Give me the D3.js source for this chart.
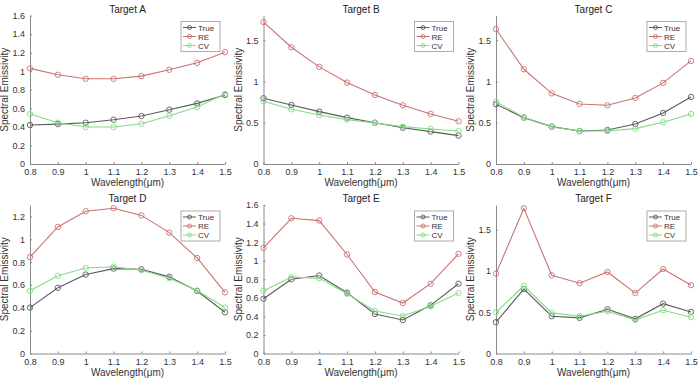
<!DOCTYPE html>
<html>
<head>
<meta charset="utf-8">
<script src="https://cdn.jsdelivr.net/npm/d3@7"></script>
<style>
  body { margin: 0; background: #fff; }
  svg { font-family: "Liberation Sans", Arial, sans-serif; }
</style>
</head>
<body>
<div id="chart"></div>
<script>
// wavelengths shared by all panels
const wavelengths = [0.8, 0.9, 1.0, 1.1, 1.2, 1.3, 1.4, 1.5];

// values, one array per series and target
const trueA = [0.42, 0.43, 0.445, 0.477, 0.517, 0.585, 0.653, 0.743];
const reA   = [1.03, 0.961, 0.918, 0.918, 0.947, 1.015, 1.09, 1.205];
const cvA   = [0.538, 0.445, 0.398, 0.398, 0.434, 0.52, 0.613, 0.753];

const trueB = [0.797, 0.716, 0.635, 0.562, 0.501, 0.44, 0.392, 0.344];
const reB   = [1.72, 1.415, 1.177, 0.987, 0.837, 0.712, 0.607, 0.518];
const cvB   = [0.76, 0.663, 0.594, 0.538, 0.497, 0.453, 0.425, 0.40];

const trueC = [0.724, 0.562, 0.453, 0.40, 0.412, 0.485, 0.619, 0.813];
const reC   = [1.634, 1.148, 0.857, 0.728, 0.712, 0.80, 0.983, 1.25];
const cvC   = [0.756, 0.566, 0.449, 0.40, 0.40, 0.429, 0.505, 0.607];

const trueD = [0.402, 0.575, 0.691, 0.743, 0.737, 0.671, 0.547, 0.361];
const reD   = [0.844, 1.108, 1.246, 1.272, 1.209, 1.058, 0.836, 0.535];
const cvD   = [0.549, 0.68, 0.749, 0.76, 0.729, 0.659, 0.552, 0.402];

const trueE = [0.59, 0.80, 0.84, 0.655, 0.426, 0.361, 0.519, 0.752];
const reE   = [1.138, 1.457, 1.432, 1.067, 0.662, 0.544, 0.752, 1.074];
const cvE   = [0.676, 0.823, 0.812, 0.644, 0.458, 0.404, 0.508, 0.651];

const trueF = [0.38, 0.78, 0.452, 0.432, 0.536, 0.42, 0.604, 0.504];
const reF   = [0.968, 1.76, 0.948, 0.852, 0.988, 0.732, 1.024, 0.828];
const cvF   = [0.50, 0.82, 0.492, 0.452, 0.512, 0.408, 0.524, 0.44];

// panel titles, y limits and y ticks
const titles = ["Target A", "Target B", "Target C", "Target D", "Target E", "Target F"];
const yMax = [1.6, 1.8, 1.8, 1.3, 1.6, 1.8];
const yTicksA = [0, 0.2, 0.4, 0.6, 0.8, 1, 1.2, 1.4, 1.6];
const yTicksB = [0, 0.5, 1, 1.5];
const yTicksD = [0, 0.2, 0.4, 0.6, 0.8, 1, 1.2];
const yTicks = [yTicksA, yTicksB, yTicksB, yTicksD, yTicksA, yTicksB];
const xTicks = [0.8, 0.9, 1, 1.1, 1.2, 1.3, 1.4, 1.5];

const seriesNames = ["True", "RE", "CV"];
const seriesColors = ["#5a5a5a", "#cc7272", "#84dc84"];
const panelData = [
  [trueA, reA, cvA], [trueB, reB, cvB], [trueC, reC, cvC],
  [trueD, reD, cvD], [trueE, reE, cvE], [trueF, reF, cvF]
];

const width = 700;
const height = 380;

const svg = d3.select("#chart").append("svg")
    .attr("width", width)
    .attr("height", height);

// grid of panel positions
const colLeft = [30, 263.5, 496];
const rowTop = [15.5, 205];
const pw = 195;
const ph = 148.5;

const fmt = d => String(+d.toFixed(2));
const axisColor = "#8a8a8a";

panelData.forEach((series, i) => {
  const left = colLeft[i % 3];
  const top = rowTop[Math.floor(i / 3)];

  const x = d3.scaleLinear().domain([0.8, 1.5]).range([0, pw]);
  const y = d3.scaleLinear().domain([0, yMax[i]]).range([ph, 0]);

  const g = svg.append("g").attr("transform", `translate(${left},${top})`);

  // axes (ticks point inward like the original)
  const xAxis = g.append("g")
      .attr("transform", `translate(0,${ph})`)
      .call(d3.axisBottom(x).tickValues(xTicks).tickFormat(fmt).tickSizeInner(-2).tickSizeOuter(0).tickPadding(5));
  const yAxis = g.append("g")
      .call(d3.axisLeft(y).tickValues(yTicks[i]).tickFormat(fmt).tickSizeInner(-2).tickSizeOuter(0).tickPadding(5));

  [xAxis, yAxis].forEach(a => {
    a.select(".domain").attr("stroke", axisColor);
    a.selectAll(".tick line").attr("stroke", axisColor);
    a.selectAll(".tick text").attr("fill", "#333").attr("font-size", 9);
  });

  // title
  g.append("text")
      .attr("x", pw / 2)
      .attr("y", -3)
      .attr("text-anchor", "middle")
      .attr("font-size", 10)
      .attr("fill", "#222")
      .text(titles[i]);

  // axis labels
  g.append("text")
      .attr("x", pw / 2)
      .attr("y", ph + 22)
      .attr("text-anchor", "middle")
      .attr("font-size", 10)
      .attr("fill", "#333")
      .text("Wavelength(μm)");

  g.append("text")
      .attr("transform", `translate(-22,${ph / 2}) rotate(-90)`)
      .attr("text-anchor", "middle")
      .attr("font-size", 10)
      .attr("fill", "#333")
      .text("Spectral Emissivity");

  const line = d3.line()
      .x((d, j) => x(wavelengths[j]))
      .y(d => y(d));

  series.forEach((vals, s) => {
    g.append("path")
        .datum(vals)
        .attr("d", line)
        .attr("fill", "none")
        .attr("stroke", seriesColors[s])
        .attr("stroke-width", 1.1);

    g.selectAll(null)
        .data(vals)
        .enter().append("circle")
        .attr("cx", (d, j) => x(wavelengths[j]))
        .attr("cy", d => y(d))
        .attr("r", 2.7)
        .attr("fill", "none")
        .attr("stroke", seriesColors[s])
        .attr("stroke-width", 0.9);
  });

  // legend box in the top right corner
  const lg = g.append("g").attr("transform", `translate(${pw - 44},6)`);
  lg.append("rect")
      .attr("width", 39)
      .attr("height", 30)
      .attr("fill", "#fff")
      .attr("stroke", "#999")
      .attr("stroke-width", 0.8);

  seriesNames.forEach((name, s) => {
    const yy = 6 + s * 9;
    lg.append("line")
        .attr("x1", 2).attr("x2", 15)
        .attr("y1", yy).attr("y2", yy)
        .attr("stroke", seriesColors[s]);
    lg.append("circle")
        .attr("cx", 8.5).attr("cy", yy).attr("r", 2)
        .attr("fill", "none")
        .attr("stroke", seriesColors[s])
        .attr("stroke-width", 0.9);
    lg.append("text")
        .attr("x", 17)
        .attr("y", yy + 3)
        .attr("font-size", 8)
        .attr("fill", "#333")
        .text(name);
  });
});
</script>
</body>
</html>
